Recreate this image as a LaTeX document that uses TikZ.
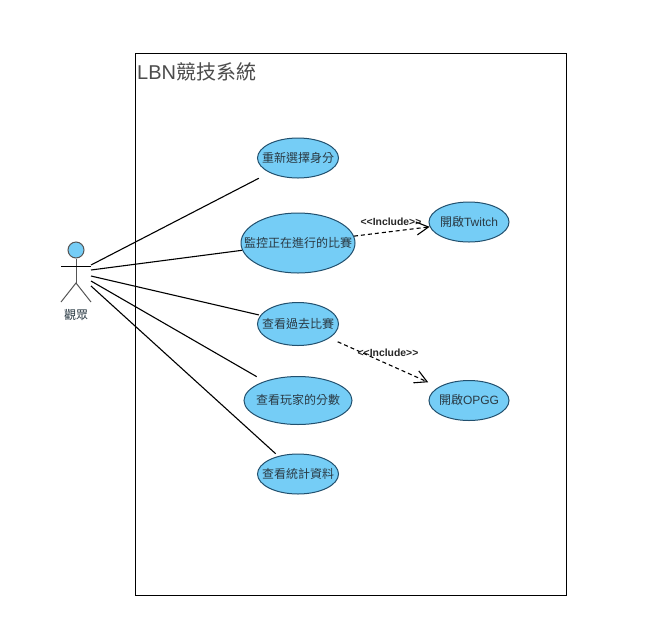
\documentclass[tikz,border=0pt]{standalone}
\usepackage{fontspec}
\setmainfont{Liberation Sans}
\newfontfamily\cjk{Noto Sans CJK TC}
\usetikzlibrary{arrows.meta,shapes.geometric}
\definecolor{ufill}{HTML}{75CDF6}
\definecolor{ustroke}{HTML}{22506E}
\definecolor{utext}{HTML}{2A3A44}
\definecolor{stick}{HTML}{555555}
\newcommand{\uctext}[1]{\makebox[0pt][c]{\smash{\raisebox{-4.2pt}{#1}}}}
\tikzset{
  usecase/.style={ellipse,draw=ustroke,fill=ufill,line width=1pt,inner sep=0pt,text=utext,font=\fontsize{12}{12}\selectfont},
  assoc/.style={draw=black,line width=1.1pt},
  incl/.style={draw=black,line width=1.1pt,dash pattern=on 4pt off 3pt,-{Straight Barb[length=12pt,width=13pt,line width=1.1pt]}},
  incllabel/.style={inner sep=0pt,text=black!85,font=\fontsize{10.4}{10.4}\selectfont\bfseries},
  limb/.style={draw=stick,line width=1pt}
}
\begin{document}
\begin{tikzpicture}[x=1pt,y=-1pt]
\useasboundingbox (0,0) rectangle (664,641);
\fill[white] (0,0) rectangle (664,641);
\node[draw=black,line width=0.8pt,minimum width=431pt,minimum height=542pt,inner sep=0pt,anchor=north west] (sys) at (135,53) {};
\node[anchor=west,inner sep=0pt,text=black!70,font=\fontsize{20}{20}\selectfont] (title) at (137,72) {LBN{\cjk 競技系統}};
% use cases
\node[usecase,minimum width=81pt,minimum height=40pt] (e1) at (298,158) {\uctext{\cjk 重新選擇身分}};
\node[usecase,minimum width=114pt,minimum height=60pt] (e2) at (298,243) {\uctext{\cjk 監控正在進行的比賽}};
\node[usecase,minimum width=81pt,minimum height=43pt] (e3) at (298,324) {\uctext{\cjk 查看過去比賽}};
\node[usecase,minimum width=108pt,minimum height=48pt] (e4) at (298,400.5) {\uctext{\cjk 查看玩家的分數}};
\node[usecase,minimum width=81pt,minimum height=40pt] (e5) at (298,474) {\uctext{\cjk 查看統計資料}};
\node[usecase,minimum width=80pt,minimum height=40pt] (tw) at (469,222) {\uctext{{\cjk 開啟}Twitch}};
\node[usecase,minimum width=80pt,minimum height=40pt] (op) at (469,400.5) {\uctext{{\cjk 開啟}OPGG}};
% actor
\node[circle,draw=stick,fill=ufill,line width=1pt,minimum size=16pt,inner sep=0pt] (head) at (76,250) {};
\coordinate (armL) at (61,266);
\coordinate (armR) at (91,266);
\coordinate (hip) at (76,283);
\coordinate (footL) at (61,302);
\coordinate (footR) at (91,302);
\draw[limb] (head) -- (hip);
\draw[draw=black,line width=0.8pt] (armL) -- (armR);
\draw[limb] (footL) -- (hip) -- (footR);
\node[inner sep=0pt,text=utext,font=\fontsize{12}{12}\selectfont] (actor) at (76,315) {\cjk 觀眾};
% association ends at the actor
\coordinate (a1) at (91,265);
\coordinate (a2) at (91,270);
\coordinate (a3) at (91,276);
\coordinate (a4) at (91,281);
\coordinate (a5) at (91,286);
\draw[assoc,shorten >=12pt] (a1) -- (e1);
\draw[assoc] (a2) -- (e2);
\draw[assoc,shorten >=1.5pt] (a3) -- (e3);
\draw[assoc,shorten >=9pt] (a4) -- (e4);
\draw[assoc,shorten >=3.5pt] (a5) -- (e5);
% includes
\draw[incl] (e2) -- (tw);
\draw[incl,shorten <=9pt,shorten >=11.5pt] (e3) -- (op);
\node[incllabel] (l1) at (391,222) {<{}<Include>{}>};
\node[incllabel] (l2) at (388,353) {<{}<Include>{}>};
\end{tikzpicture}
\end{document}
